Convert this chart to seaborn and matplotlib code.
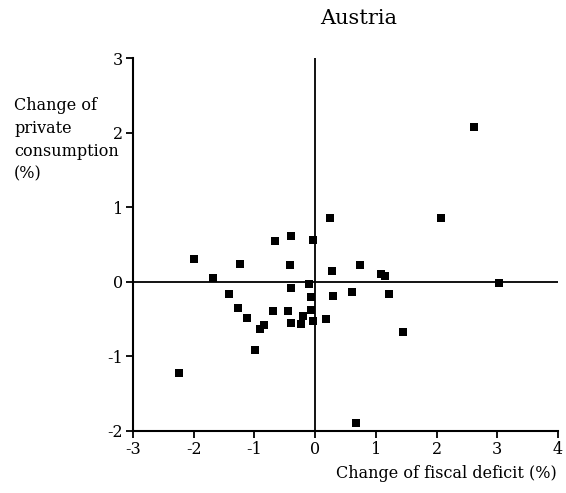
import matplotlib
matplotlib.use("Agg")
import matplotlib.pyplot as plt
import seaborn as sns
import pandas as pd

# Change of fiscal deficit (%) and change of private consumption (%), Austria
fiscal_deficit = [-2.00, -1.68, -1.24, -1.42, -1.27, -1.13, -0.99, -0.91, -0.85,
                  -0.69, -0.66, -0.39, -0.42, -0.40, -0.45, -0.39, -0.24, -0.20,
                  -0.10, -0.07, -0.07, -0.03, -0.03, 0.18, 0.24, 0.27, 0.30,
                  -2.24, 2.62, 2.07, 0.74, 1.08, 1.15, 3.03, 0.60, 1.21, 1.45, 0.68]
private_consumption = [0.30, 0.05, 0.24, -0.17, -0.35, -0.49, -0.91, -0.63, -0.58,
                       -0.39, 0.55, 0.61, 0.22, -0.08, -0.39, -0.55, -0.56, -0.46,
                       -0.03, -0.21, -0.38, -0.53, 0.56, -0.50, 0.85, 0.15, -0.19,
                       -1.23, 2.08, 0.85, 0.23, 0.11, 0.08, -0.01, -0.14, -0.17, -0.67, -1.90]

x_ticks = [-3, -2, -1, 0, 1, 2, 3, 4]
y_ticks = [-2, -1, 0, 1, 2, 3]
y_label_lines = ["Change of", "private", "consumption", "(%)"]

df = pd.DataFrame({"deficit": fiscal_deficit, "consumption": private_consumption})

sns.set_style("white")
plt.rcParams["font.family"] = ["DejaVu Serif"]
plt.rcParams["axes.unicode_minus"] = False
plt.rcParams["text.color"] = "black"
plt.rcParams["xtick.color"] = "black"
plt.rcParams["ytick.color"] = "black"

fig = plt.figure(figsize=(5.66, 4.93), dpi=100)
ax = fig.add_axes([0.235, 0.126, 0.751, 0.756])

sns.scatterplot(data=df, x="deficit", y="consumption", marker="s", s=32,
                color="black", edgecolor="black", linewidth=0, ax=ax, zorder=3)

ax.axhline(0, color="black", lw=1.3, zorder=2)
ax.axvline(0, color="black", lw=1.3, zorder=2)

ax.set_xlim(-3, 4)
ax.set_ylim(-2, 3)
ax.set_xticks(x_ticks)
ax.set_yticks(y_ticks)
ax.tick_params(axis="both", direction="out", length=5, width=1.3, color="black",
               labelcolor="black", labelsize=11.5, pad=2, left=True, bottom=True)

for side in ("top", "right"):
    ax.spines[side].set_visible(False)
for side in ("left", "bottom"):
    ax.spines[side].set_color("black")
    ax.spines[side].set_linewidth(1.5)

ax.set_xlabel("")
ax.set_ylabel("")

fig.text(0.634, 0.963, "Austria", ha="center", va="center", fontsize=15)
fig.text(0.984, 0.022, "Change of fiscal deficit (%)", ha="right", va="bottom", fontsize=11.5)

# Stacked y-axis caption, one line per text so each sits on its own row
line_top, line_step = 0.787, 0.0467
for i, line in enumerate(y_label_lines):
    fig.text(0.025, line_top - i * line_step, line, ha="left", va="center", fontsize=11.5)

fig.savefig("out.png", dpi=100)
